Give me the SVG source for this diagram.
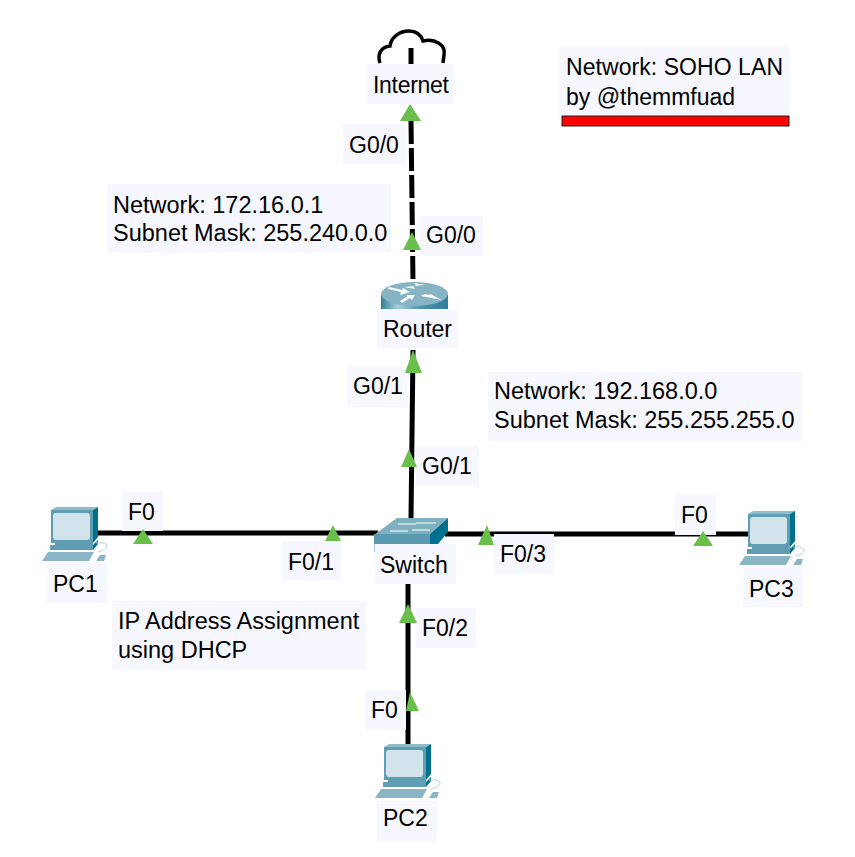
<svg xmlns="http://www.w3.org/2000/svg" xmlns:xlink="http://www.w3.org/1999/xlink" width="855" height="857" viewBox="0 0 855 857">
<style>
text{font-family:"Liberation Sans",Arial,sans-serif;font-size:23px;fill:#000}
text.note{font-size:23.500px}
.bg{fill:#f7f8ff}
.link{stroke:#000;stroke-width:5;fill:none}
.tri{fill:#6abf4b}
</style>
<defs>
<linearGradient id="rt" x1="0" x2="1" y1="0" y2="0"><stop offset="0" stop-color="#2f7f99"/><stop offset=".25" stop-color="#a9cdd8"/><stop offset=".6" stop-color="#4f93aa"/><stop offset="1" stop-color="#2f7f99"/></linearGradient>
<g id="pc">
<path d="M0 54 L6 45 L52 45 L47 54 Z" fill="#8ab5c4"/>
<path d="M9 3 L14 0 L56 0 L51 3 Z" fill="#8fbccb"/>
<path d="M51 3 L56 0 V30 L51 36 Z" fill="#00708f"/>
<rect x="9" y="3" width="42" height="33" fill="#5e9db2"/>
<rect x="11" y="6" width="37" height="27" rx="3" fill="#d3e3ec"/>
<path d="M13 36 H51 V38 H13 Z" fill="#5e9db2"/>
<path d="M8 38 H51 V43 H8 Z" fill="#5e9db2"/>
<path d="M51 43 L56 37 V33 L51 38 Z" fill="#00708f"/>
<path d="M54 54 L58 48 H64 L62 54 Z" fill="#8ab5c4"/>
<path d="M56 45 Q66 43 65 38 Q62 35 54 36" fill="none" stroke="#b9d3dc" stroke-width="1"/>
</g>
</defs>
<rect width="855" height="857" fill="#fff"/>
<g id="connectors">
<path class="link" d="M411 48 V64"/>
<path class="link" d="M411 121 L413 282" stroke-dasharray="23 4"/>
<path class="link" d="M413 350 L411 518"/>
<path class="link" d="M98 533 H378"/>
<path class="link" d="M445 534 H750"/>
<path class="link" d="M408 584 L408 748"/>
</g>
<g id="internet">
<path d="M380 63 C377 54 381 47 390 46 C391 37 400 31 409 31 C416 31 421 35 423 41 C435 38 446 45 444 55 L443 63" fill="none" stroke="#000" stroke-width="3.500"/>
<rect class="bg" x="367" y="64" width="87" height="40"/>
<text x="373" y="93" textLength="76">Internet</text>
</g>
<g id="router">
<path d="M381 294 V309 H448 V294 Z" fill="url(#rt)"/>
<ellipse cx="414.500" cy="294" rx="33.500" ry="12" fill="#86b4c4"/>
<path d="M388 289 L401 292 L400 295 L410 292 L403 288 L402 290 L389 287 Z M404 287 L415 289 L413 286 L425 285 L414 283 L416 286 Z" fill="#fff"/>
<path d="M402 303 L410 298 L412 300 L415 295 L406 295 L408 296 L400 301 Z M421 296 L442 300 L430 294 L429 295 L424 294 Z" fill="#fff"/>
<rect class="bg" x="377" y="309" width="81" height="40"/>
<text x="383" y="337">Router</text>
</g>
<g id="switch">
<path d="M374 535 L397 518 H448 L430 534 Z" fill="#7fb0c0"/>
<rect x="374" y="534" width="56" height="10" fill="#5a9ab0"/>
<path d="M430 534 L448 518 V532 L438 544 H430 Z" fill="#00708f"/>
<path d="M398 524 H416 M416 523 H436 M390 531 H408 M412 530 H430" stroke="#d5e6ec" stroke-width="1.500"/>
<path d="M374.500 544 V552" stroke="#a9cdd8" stroke-width="1"/>
<rect class="bg" x="375" y="544" width="81" height="40"/>
<text x="380" y="573">Switch</text>
</g>
<g id="pc1">
<use xlink:href="#pc" href="#pc" x="42" y="507"/>
<rect class="bg" x="47" y="563" width="60" height="40"/>
<text x="53" y="592">PC1</text>
</g>
<g id="pc2">
<use xlink:href="#pc" href="#pc" x="375" y="744"/>
<rect class="bg" x="377" y="801" width="60" height="40"/>
<text x="383" y="826">PC2</text>
</g>
<g id="pc3">
<use xlink:href="#pc" href="#pc" x="739" y="511"/>
<rect class="bg" x="743" y="567" width="60" height="40"/>
<text x="749" y="597">PC3</text>
</g>
<g id="ports">
<rect class="bg" x="343" y="124" width="63" height="40"/><text x="349" y="153">G0/0</text>
<rect class="bg" x="420" y="216" width="63" height="40"/><text x="426" y="243">G0/0</text>
<rect class="bg" x="347" y="367" width="60" height="40"/><text x="353" y="394">G0/1</text>
<rect class="bg" x="416" y="446" width="63" height="40"/><text x="422" y="474">G0/1</text>
<rect class="bg" x="122" y="491" width="41" height="40"/><text x="128" y="520">F0</text>
<rect class="bg" x="282" y="541" width="59" height="40"/><text x="288" y="570">F0/1</text>
<rect class="bg" x="494" y="534" width="60" height="40"/><text x="500" y="562">F0/3</text>
<rect class="bg" x="675" y="495" width="41" height="40"/><text x="681" y="523">F0</text>
<rect class="bg" x="416" y="608" width="60" height="40"/><text x="422" y="636">F0/2</text>
<rect class="bg" x="365" y="690" width="41" height="40"/><text x="371" y="718">F0</text>
</g>
<g id="triangles">
<path class="tri" d="M410 104 L421 121 H400 Z"/>
<path class="tri" d="M412 232 L421 250 H403 Z"/>
<path class="tri" d="M413 350 L422 373 H405 Z"/>
<path class="tri" d="M409 449 L417 467 H401 Z"/>
<path class="tri" d="M143 529 L153 544 H133 Z"/>
<path class="tri" d="M333 525 L341 541 H325 Z"/>
<path class="tri" d="M487 525 L494 545 H478 Z"/>
<path class="tri" d="M703 531 L713 546 H693 Z"/>
<path class="tri" d="M408 604 L417 623 H399 Z"/>
<path class="tri" d="M410 692 L419 711 H406 Z"/>
</g>
<g id="note-isp">
<rect class="bg" x="107" y="184" width="284" height="69"/>
<text class="note" x="113" y="213">Network: 172.16.0.1</text>
<text class="note" x="113" y="241">Subnet Mask: 255.240.0.0</text>
</g>
<g id="note-lan">
<rect class="bg" x="488" y="372" width="314" height="69"/>
<text class="note" x="494" y="399">Network: 192.168.0.0</text>
<text class="note" x="494" y="428">Subnet Mask: 255.255.255.0</text>
</g>
<g id="note-dhcp">
<rect class="bg" x="112" y="601" width="254" height="69"/>
<text class="note" x="118" y="629">IP Address Assignment</text>
<text class="note" x="118" y="658">using DHCP</text>
</g>
<g id="note-title">
<rect class="bg" x="559" y="47" width="231" height="69"/>
<text x="566" y="75" textLength="217">Network: SOHO LAN</text>
<text x="566" y="105">by @themmfuad</text>
<rect x="562" y="116" width="227" height="10" fill="#ff0000" stroke="#222" stroke-width="1"/>
</g>
</svg>
